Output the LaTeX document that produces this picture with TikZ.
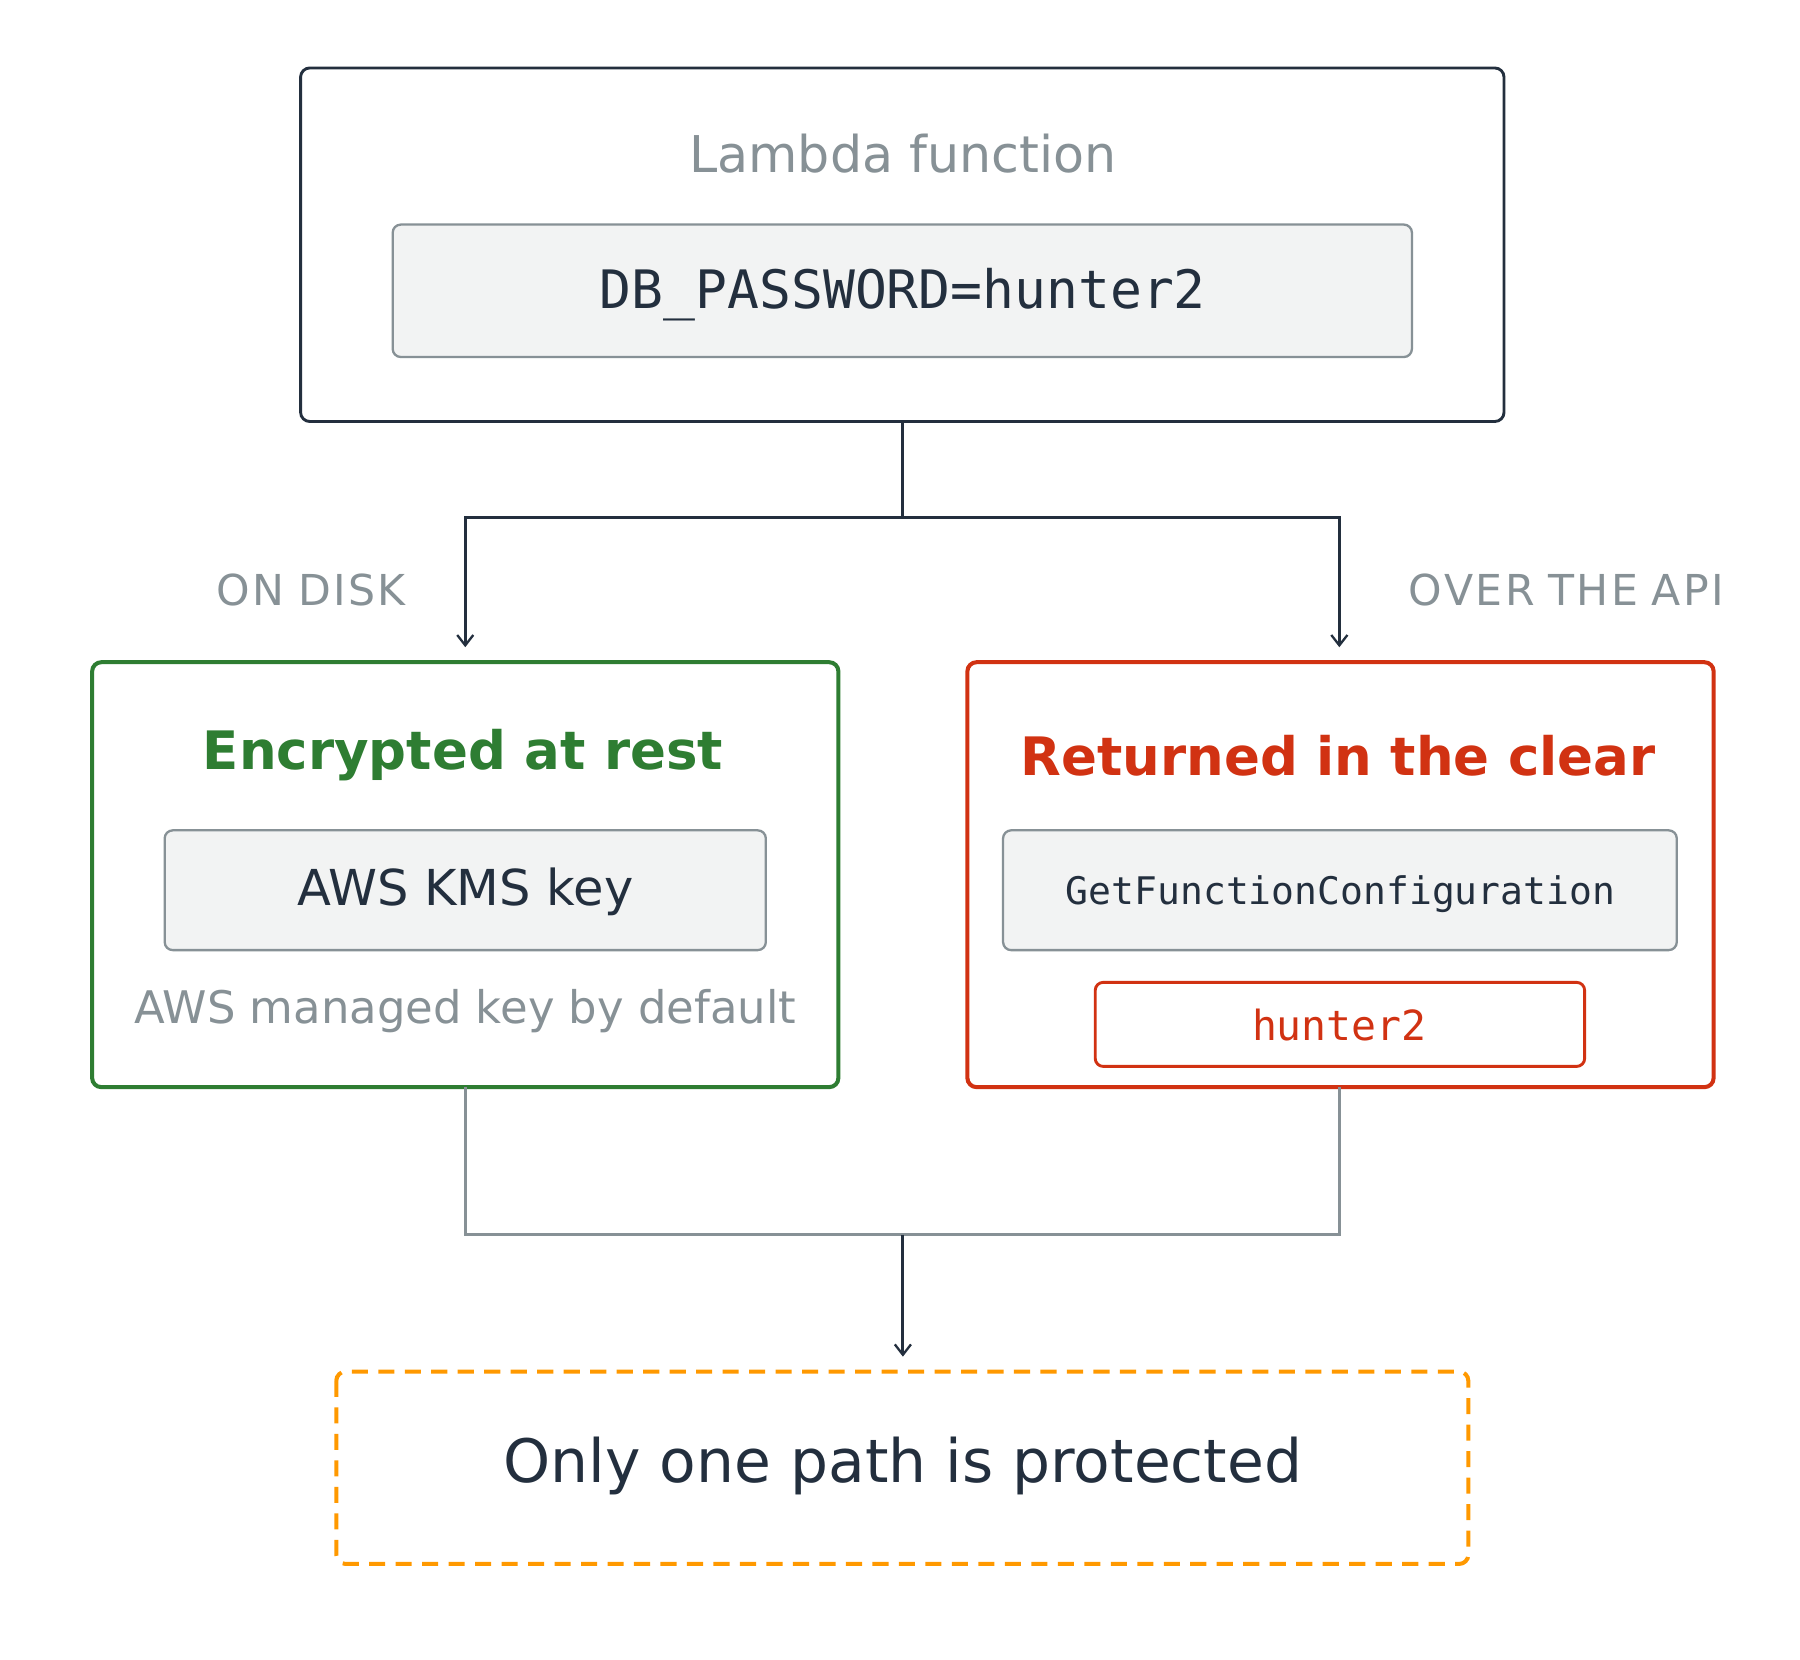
\documentclass[tikz,border=0pt]{standalone}
\usepackage{fontspec}
\setmainfont{DejaVu Sans}
\setmonofont{DejaVu Sans Mono}
\usetikzlibrary{arrows.meta}
\definecolor{dark}{HTML}{232F3E}
\definecolor{gr}{HTML}{879196}
\definecolor{fillg}{HTML}{F2F3F3}
\definecolor{grn}{HTML}{2E7D32}
\definecolor{rd}{HTML}{D13212}
\definecolor{org}{HTML}{FF9900}
\begin{document}
\begin{tikzpicture}[x=1pt,y=-1pt,
  box/.style={draw, rounded corners=8pt, line width=2.5pt},
  inner/.style={draw=gr, fill=fillg, rounded corners=7pt, line width=2pt},
  lbl/.style={inner sep=0, anchor=center},
  conn/.style={draw=dark, line width=2.5pt},
  arr/.style={conn, -{Straight Barb[length=9pt,width=14pt,line width=2pt]}}]
\useasboundingbox (0,0) rectangle (1563,1441);
\fill[white] (0,0) rectangle (1563,1441);
% top
\draw[box,draw=dark] (261,59) rectangle (1306,366);
\node[lbl,text=gr,font=\fontsize{44}{50}\selectfont] (t1) at (784,133) {Lambda function};
\draw[inner] (341,195) rectangle (1226,310);
\node[lbl,text=dark,font=\ttfamily\fontsize{46}{52}\selectfont] (t2) at (784,256) {DB\_PASSWORD=hunter2};
\coordinate (top) at (784,366);
\coordinate (sp) at (784,449);
\coordinate (l) at (404,449);
\coordinate (r) at (1163,449);
\coordinate (la) at (404,562);
\coordinate (ra) at (1163,562);
\draw[conn] (top) -- (sp);
\draw[arr] (sp) -- (l) -- (la);
\draw[arr] (sp) -- (r) -- (ra);
\node[lbl,text=gr,font=\fontsize{37}{42}\selectfont] (od) at (270,512) {O\kern2pt N\kern12pt D\kern2pt I\kern2pt S\kern2pt K};
\node[lbl,text=gr,font=\fontsize{37}{42}\selectfont] (oa) at (1360,512) {O\kern2pt V\kern2pt E\kern2pt R\kern12pt T\kern2pt H\kern2pt E\kern12pt A\kern2pt P\kern2pt I};
% left
\draw[box,draw=grn,line width=3.5pt] (80,575) rectangle (728,944);
\node[lbl,text=grn,font=\bfseries\fontsize{46}{52}\selectfont] (lt) at (402,656) {Encrypted at rest};
\draw[inner] (143,721) rectangle (665,825);
\node[lbl,text=dark,font=\fontsize{43}{48}\selectfont] (kms) at (404,774) {AWS KMS key};
\node[lbl,text=gr,font=\fontsize{39}{44}\selectfont] (amk) at (404,878) {AWS managed key by default};
% right
\draw[box,draw=rd,line width=3.5pt] (840,575) rectangle (1488,944);
\node[lbl,text=rd,font=\bfseries\fontsize{46}{52}\selectfont] (rt) at (1162,656) {Returned in the clear};
\draw[inner] (871,721) rectangle (1456,825);
\node[lbl,text=dark,font=\ttfamily\fontsize{33}{38}\selectfont] (gfc) at (1164,776) {GetFunctionConfiguration};
\draw[draw=rd,rounded corners=7pt,line width=2.5pt] (951,853) rectangle (1376,926);
\node[lbl,text=rd,font=\ttfamily\fontsize{36}{40}\selectfont] (h2) at (1163,890) {hunter2};
% bottom connectors
\coordinate (lb) at (404,944);
\coordinate (rb) at (1163,944);
\coordinate (lj) at (404,1072);
\coordinate (rj) at (1163,1072);
\coordinate (mj) at (784,1072);
\coordinate (ba) at (784,1178);
\draw[draw=gr,line width=2.5pt] (lb) -- (lj) -- (rj) -- (rb);
\draw[arr] (mj) -- (ba);
% result
\draw[draw=org,line width=3.5pt,dash pattern=on 14pt off 9pt,rounded corners=8pt] (292,1191) rectangle (1275,1358);
\node[lbl,text=dark,font=\fontsize{52}{58}\selectfont] (res) at (784,1273) {Only one path is protected};
\end{tikzpicture}
\end{document}
